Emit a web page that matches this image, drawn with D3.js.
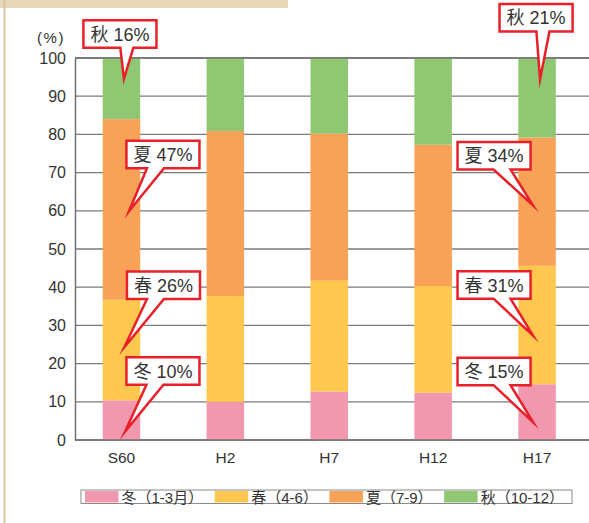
<!DOCTYPE html>
<html>
<head>
<meta charset="utf-8">
<script src="https://cdn.jsdelivr.net/npm/d3@7"></script>
<style>
  html, body { margin: 0; padding: 0; background: #fff; }
  svg { display: block; }
  text { font-family: "Liberation Sans", Arial, "Noto Sans CJK JP", sans-serif; fill: #333; }
  .jp { font-family: "Liberation Sans", "Noto Sans CJK JP", sans-serif; }
</style>
</head>
<body>
<svg id="chart" width="589" height="523"></svg>
<script>
// Survey years and seasonal share (%) of the annual total
const categories = ["S60", "H2", "H7", "H12", "H17"];
const seasonNames = ["冬", "春", "夏", "秋"];
const legendLabels = ["冬（1-3月）", "春（4-6）", "夏（7-9）", "秋（10-12）"];
const winter = [10.4, 10.0, 12.7, 12.4, 14.6];
const spring = [26.3, 27.7, 29.0, 27.9, 31.0];
const summer = [47.3, 43.2, 38.5, 37.0, 33.6];
const autumn = [16.0, 19.1, 19.8, 22.7, 20.8];
const yTicks = [0, 10, 20, 30, 40, 50, 60, 70, 80, 90, 100];

const seriesValues = [winter, spring, summer, autumn];
const colors = ["#f298ae", "#fec74d", "#f7a256", "#8fc773"];

// Callout placement: which segment, where the pointer lands inside it,
// and where the label box sits relative to the pointer tip.
const callouts = [
  { cat: 0, s: 3, frac: 0.66, tx: 2.5, dx: -4,  dy: -31 },
  { cat: 0, s: 2, frac: 0.49, tx: 7.5, dx: 34,  dy: -43 },
  { cat: 0, s: 1, frac: 0.53, tx: 3,   dx: 39,  dy: -48 },
  { cat: 0, s: 0, frac: 0.21, tx: 3.5, dx: 38,  dy: -47 },
  { cat: 4, s: 3, frac: 0.73, tx: 3,   dx: -4,  dy: -48 },
  { cat: 4, s: 2, frac: 0.47, tx: -4,  dx: -39, dy: -36 },
  { cat: 4, s: 1, frac: 0.41, tx: -4,  dx: -39, dy: -37 },
  { cat: 4, s: 0, frac: 0.32, tx: -4,  dx: -39, dy: -37 }
];

const svg = d3.select("#chart");

// page frame: beige header strip and left rule
svg.append("rect").attr("x", 0).attr("y", 0).attr("width", 288).attr("height", 8).attr("fill", "#e8d7b8");
svg.append("rect").attr("x", 3.5).attr("y", 0).attr("width", 2).attr("height", 523).attr("fill", "#dcc49e");

const axisX = 75;
const gridRight = 589;
const x = d3.scaleBand().domain(categories).range([69.5, 589]).paddingInner(0.639).paddingOuter(0.3195);
const y = d3.scaleLinear().domain([0, 100]).range([440, 58]);

// gridlines
svg.append("g").selectAll("line").data(yTicks).join("line")
  .attr("x1", axisX).attr("x2", gridRight)
  .attr("y1", d => y(d)).attr("y2", d => y(d))
  .attr("stroke", "#7a7a7a").attr("stroke-width", 1.3);

// stacked bars
const table = categories.map((c, i) => {
  const row = { cat: c };
  seasonNames.forEach((s, k) => { row[s] = seriesValues[k][i]; });
  return row;
});
const stacked = d3.stack().keys(seasonNames)(table);

svg.append("g").selectAll("g").data(stacked).join("g")
  .attr("fill", (d, i) => colors[i])
  .selectAll("rect").data(d => d).join("rect")
  .attr("x", d => x(d.data.cat))
  .attr("width", x.bandwidth())
  .attr("y", d => y(d[1]))
  .attr("height", d => y(d[0]) - y(d[1]));

// frame lines drawn over bars
svg.append("g").selectAll("line").data([0, 100]).join("line")
  .attr("x1", axisX).attr("x2", gridRight)
  .attr("y1", d => y(d)).attr("y2", d => y(d))
  .attr("stroke", "#707070").attr("stroke-width", 1.5);

// y axis
const yAxis = d3.axisLeft(y).tickValues(yTicks).tickSize(0).tickPadding(9);
const gy = svg.append("g").attr("transform", `translate(${axisX},0)`).call(yAxis);
gy.select(".domain").attr("stroke", "#707070").attr("stroke-width", 1.5);
gy.selectAll("text").attr("font-size", 16).attr("fill", "#333")
  .attr("font-family", "Liberation Sans, Arial, sans-serif");

svg.append("text").attr("x", 51).attr("y", 43).attr("text-anchor", "middle")
  .attr("font-size", 15).attr("letter-spacing", 1.5).text("(%)");

// x axis labels
const xAxis = d3.axisBottom(x).tickSize(0).tickPadding(12);
const gx = svg.append("g").attr("transform", `translate(0,${y(0)})`).call(xAxis);
gx.select(".domain").remove();
gx.selectAll("text").attr("font-size", 15.5).attr("fill", "#333")
  .attr("font-family", "Liberation Sans, Arial, sans-serif");

// legend: swatch + label items spread between the frame's inner edges
const lg = svg.append("g");
lg.append("rect").attr("x", 81).attr("y", 490).attr("width", 491).attr("height", 13.5)
  .attr("fill", "#fff").attr("stroke", "#8a8a8a").attr("stroke-width", 1);
const swW = 33.5, swGap = 3;
const items = legendLabels.map((lab, i) => {
  const sw = lg.append("rect").attr("y", 491).attr("width", swW).attr("height", 11.5).attr("fill", colors[i]);
  const t = lg.append("text").attr("class", "jp").attr("y", 502.5).attr("font-size", 15).text(lab);
  return { sw, t, w: swW + swGap + t.node().getComputedTextLength() };
});
const legStart = 85, legEnd = 564;
const spacing = (legEnd - legStart - d3.sum(items, d => d.w)) / (items.length - 1);
let lx = legStart;
items.forEach(it => {
  it.sw.attr("x", lx);
  it.t.attr("x", lx + swW + swGap);
  lx += it.w + spacing;
});

// callouts
const cg = svg.append("g");
const boxH = 27.5;
callouts.forEach(c => {
  const seg = stacked[c.s][c.cat];
  const tipX = x(categories[c.cat]) + x.bandwidth() / 2 + c.tx;
  const tipY = y(seg[0] + c.frac * (seg[1] - seg[0]));
  const label = `${seasonNames[c.s]} ${Math.round(seriesValues[c.s][c.cat])}%`;
  const g = cg.append("g");
  const path = g.append("path");
  const t = g.append("text").attr("class", "jp").attr("font-size", 18).attr("fill", "#333")
    .attr("text-anchor", "middle").text(label);
  const w = t.node().getComputedTextLength() + 14;
  const cx = tipX + c.dx;
  const bottom = tipY + c.dy;
  const top = bottom - boxH;
  const left = cx - w / 2, right = cx + w / 2;
  const baseC = cx + Math.max(-8, Math.min(8, (tipX - cx) * 0.22)) + (Math.abs(tipX - cx) < 10 ? 6 : 0);
  const half = Math.abs(tipX - cx) < 10 ? 6.5 : 8.5;
  const d = `M${left},${top}H${right}V${bottom}H${baseC + half}L${tipX},${tipY}L${baseC - half},${bottom}H${left}Z`;
  path.attr("d", d).attr("fill", "#fff").attr("stroke", "#e8202a").attr("stroke-width", 2.5)
    .attr("stroke-linejoin", "miter").attr("stroke-miterlimit", 20);
  t.attr("x", cx).attr("y", top + 20.5);
});
</script>
</body>
</html>
